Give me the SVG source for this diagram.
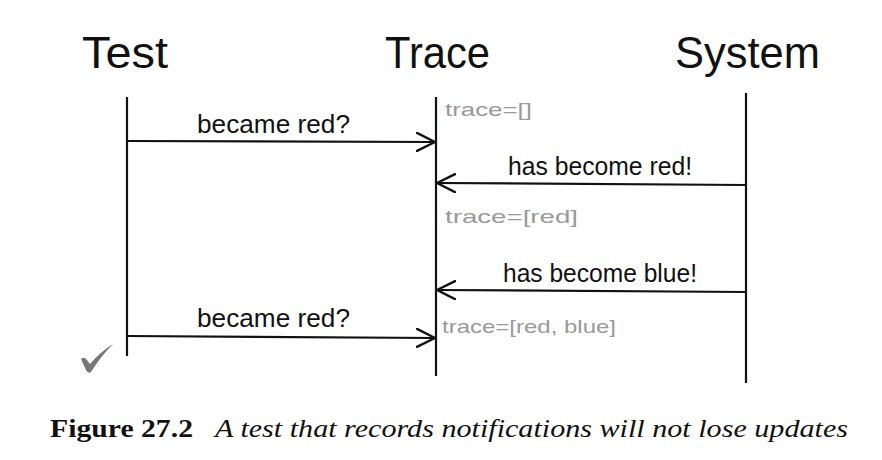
<svg xmlns="http://www.w3.org/2000/svg" width="882" height="460" viewBox="0 0 882 460">
  <style>
    .title { font-family: "Liberation Sans", "DejaVu Sans", sans-serif; font-size: 44px; fill: #111; }
    .msg { font-family: "Liberation Sans", "DejaVu Sans", sans-serif; font-size: 26px; fill: #111; }
    .state { font-family: "Liberation Sans", "DejaVu Sans", sans-serif; font-size: 19px; fill: #999; }
    .life { stroke: #111; stroke-width: 2.2; fill: none; }
    .arrow { stroke: #111; stroke-width: 2.2; fill: none; }
    .cap { font-family: "Liberation Serif", "Times New Roman", serif; font-size: 26px; fill: #111; }
  </style>
  <defs>
    <marker id="head" viewBox="0 0 20 20" refX="19" refY="10" markerWidth="20" markerHeight="20" markerUnits="userSpaceOnUse" orient="auto">
      <path d="M1,1 L19,10 L1,19" fill="none" stroke="#111" stroke-width="2.4" stroke-linecap="round" stroke-linejoin="round"/>
    </marker>
  </defs>
  <rect width="882" height="460" fill="#fff"/>

  <g id="test">
    <text class="title" x="82" y="68" textLength="86" lengthAdjust="spacingAndGlyphs">Test</text>
    <line class="life" x1="127" y1="97" x2="127" y2="356"/>
  </g>
  <g id="trace">
    <text class="title" x="385" y="68" textLength="105" lengthAdjust="spacingAndGlyphs">Trace</text>
    <line class="life" x1="436" y1="97" x2="436" y2="376"/>
  </g>
  <g id="system">
    <text class="title" x="675" y="68" textLength="145" lengthAdjust="spacingAndGlyphs">System</text>
    <line class="life" x1="746" y1="93" x2="746" y2="383"/>
  </g>

  <g id="connectors">
    <line class="arrow" x1="127" y1="141" x2="435" y2="142" marker-end="url(#head)"/>
    <line class="arrow" x1="746" y1="185" x2="437" y2="183" marker-end="url(#head)"/>
    <line class="arrow" x1="746" y1="292" x2="437" y2="290" marker-end="url(#head)"/>
    <line class="arrow" x1="127" y1="336" x2="435" y2="338" marker-end="url(#head)"/>
  </g>

  <g id="labels">
    <text class="msg" x="197" y="133" textLength="153" lengthAdjust="spacingAndGlyphs">became red?</text>
    <text class="msg" x="508" y="175" textLength="184" lengthAdjust="spacingAndGlyphs">has become red!</text>
    <text class="msg" x="503" y="282" textLength="194" lengthAdjust="spacingAndGlyphs">has become blue!</text>
    <text class="msg" x="197" y="327" textLength="153" lengthAdjust="spacingAndGlyphs">became red?</text>
  </g>

  <g id="states">
    <text class="state" x="445" y="116" textLength="87" lengthAdjust="spacingAndGlyphs">trace=[]</text>
    <text class="state" x="445" y="223" textLength="133" lengthAdjust="spacingAndGlyphs">trace=[red]</text>
    <text class="state" x="442" y="333" textLength="174" lengthAdjust="spacingAndGlyphs">trace=[red, blue]</text>
  </g>

  <g id="check">
    <path d="M81,359 Q84,356 87,360 L90,364 Q100,352 113,344 Q101,356 91,372 Q88,374 86,370 Z" fill="#777"/>
  </g>

  <g id="caption">
    <text class="cap" x="50" y="437" font-weight="bold" textLength="143" lengthAdjust="spacingAndGlyphs">Figure 27.2</text>
    <text class="cap" x="215" y="437" font-style="italic" textLength="633" lengthAdjust="spacingAndGlyphs">A test that records notifications will not lose updates</text>
  </g>
</svg>
